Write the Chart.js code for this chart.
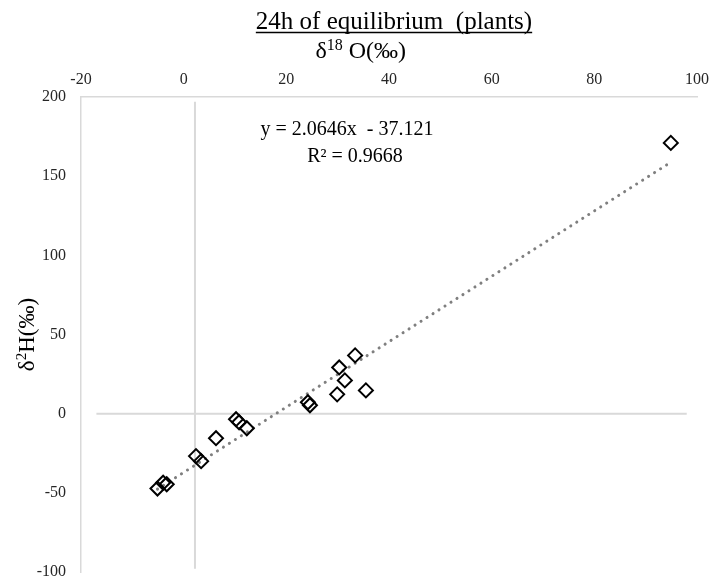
<!DOCTYPE html>
<html>
<head>
<meta charset="utf-8">
<script src="https://cdn.jsdelivr.net/npm/chart.js@4/dist/chart.umd.min.js"></script>
<style>
  body { margin: 0; background: #fff; }
  #wrap { width: 711px; height: 581px; }
</style>
</head>
<body>
<div id="wrap"><canvas id="chart"></canvas></div>
<script>
// Points (d18O, d2H)
const xVals = [94.9, 33.4, 30.3, 31.4, 29.9, 35.5, 24.2, 24.6, 10.2, 10.8, 12.3, 6.3, 2.4, 3.4, -5.1, -4.0, -3.3];
const yVals = [171, 36.8, 29.2, 21, 12.2, 14.7, 7.2, 5.3, -3.5, -5.4, -9.2, -15.5, -26.8, -30, -47.3, -43.6, -44.6];

// Trendline as printed on the chart
const slope = 2.0646;
const intercept = -37.121;
const rSquared = 0.9668;

const xTicks = [-20, 0, 20, 40, 60, 80, 100];
const yTicks = [-100, -50, 0, 50, 100, 150, 200];
const crossX = 2.2; // where the vertical axis line sits

const serif = "'Liberation Serif', 'DejaVu Serif', serif";

const points = xVals.map((x, i) => ({ x: x, y: yVals[i] }));
const xMin = Math.min(...xVals), xMax = Math.max(...xVals);
const trend = [xMin, xMax].map(x => ({ x: x, y: slope * x + intercept }));

const overlay = {
    id: 'overlay',
    beforeDatasetsDraw(chart) {
        const { ctx, scales: { x, y } } = chart;
        ctx.save();
        ctx.strokeStyle = '#d9d9d9';
        ctx.lineWidth = 2;
        // vertical line
        const px = x.getPixelForValue(crossX);
        ctx.beginPath();
        ctx.moveTo(px, y.getPixelForValue(197));
        ctx.lineTo(px, y.getPixelForValue(-98));
        ctx.stroke();
        // zero line
        const py = y.getPixelForValue(0);
        ctx.beginPath();
        ctx.moveTo(x.getPixelForValue(-17), py);
        ctx.lineTo(x.getPixelForValue(98), py);
        ctx.stroke();
        ctx.restore();
    },
    afterDraw(chart) {
        const { ctx, chartArea, scales: { x } } = chart;
        ctx.save();
        ctx.fillStyle = '#000';
        ctx.strokeStyle = '#000';

        // main title, underlined
        ctx.font = '25px ' + serif;
        ctx.textBaseline = 'alphabetic';
        ctx.textAlign = 'center';
        const title = '24h of equilibrium  (plants)';
        const tx = 394;
        ctx.fillText(title, tx, 29);
        const tw = ctx.measureText(title).width;
        ctx.lineWidth = 1.5;
        ctx.beginPath();
        ctx.moveTo(tx - tw / 2, 32.5);
        ctx.lineTo(tx + tw / 2, 32.5);
        ctx.stroke();

        // x axis title  δ18 O(‰)
        ctx.textAlign = 'left';
        const parts = [['δ', 24, 0], ['18', 16, -8], [' O(‰)', 24, 0]];
        let total = 0;
        parts.forEach(p => { ctx.font = p[1] + 'px ' + serif; total += ctx.measureText(p[0]).width; });
        let cx = x.getPixelForValue(34.5) - total / 2;
        parts.forEach(p => {
            ctx.font = p[1] + 'px ' + serif;
            ctx.fillText(p[0], cx, 58 + p[2]);
            cx += ctx.measureText(p[0]).width;
        });

        // y axis title  δ2H(‰)
        const yparts = [['δ', 23, 0], ['2', 15, -8], ['H(‰)', 23, 0]];
        total = 0;
        yparts.forEach(p => { ctx.font = p[1] + 'px ' + serif; total += ctx.measureText(p[0]).width; });
        ctx.translate(34, (chartArea.top + chartArea.bottom) / 2);
        ctx.rotate(-Math.PI / 2);
        cx = -total / 2;
        yparts.forEach(p => {
            ctx.font = p[1] + 'px ' + serif;
            ctx.fillText(p[0], cx, p[2]);
            cx += ctx.measureText(p[0]).width;
        });
        ctx.setTransform(1, 0, 0, 1, 0, 0);

        // equation
        ctx.font = '20px ' + serif;
        ctx.textAlign = 'center';
        ctx.fillText('y = 2.0646x  - 37.121', 347, 135);
        ctx.fillText('R² = ' + rSquared, 355, 162);
        ctx.restore();
    }
};

new Chart(document.getElementById('chart'), {
    type: 'scatter',
    data: {
        datasets: [
            {
                data: points,
                pointStyle: 'rectRot',
                pointRadius: 7,
                pointHoverRadius: 7,
                borderColor: '#000',
                borderWidth: 2,
                backgroundColor: 'rgba(0,0,0,0)',
                order: 1
            },
            {
                type: 'line',
                data: trend,
                borderColor: '#7f7f7f',
                borderWidth: 3,
                borderDash: [0.1, 7],
                borderCapStyle: 'round',
                pointRadius: 0,
                fill: false,
                order: 2
            }
        ]
    },
    options: {
        responsive: true,
        maintainAspectRatio: false,
        animation: false,
        layout: { padding: { top: 45, left: 0, right: 14, bottom: 7 } },
        plugins: { legend: { display: false }, title: { display: false }, tooltip: { enabled: false } },
        scales: {
            x: {
                type: 'linear',
                position: 'top',
                min: -20,
                max: 100,
                afterBuildTicks: s => { s.ticks = xTicks.map(v => ({ value: v })); },
                afterFit: s => { s.height = 52; s.paddingLeft = 0; s.paddingRight = 0; },
                grid: { display: false, drawTicks: false },
                border: { display: true, color: '#d9d9d9', width: 1.5 },
                ticks: { padding: 8, color: '#262626', font: { family: serif, size: 16 } }
            },
            y: {
                type: 'linear',
                min: -100,
                max: 200,
                afterBuildTicks: s => { s.ticks = yTicks.map(v => ({ value: v })); },
                afterFit: s => { s.width = 81; s.paddingTop = 0; s.paddingBottom = 0; },
                grid: { display: false, drawTicks: false },
                border: { display: true, color: '#d9d9d9', width: 1.5 },
                ticks: { padding: 15, color: '#262626', font: { family: serif, size: 16, lineHeight: 0.6 } }
            }
        }
    },
    plugins: [overlay]
});
</script>
</body>
</html>
